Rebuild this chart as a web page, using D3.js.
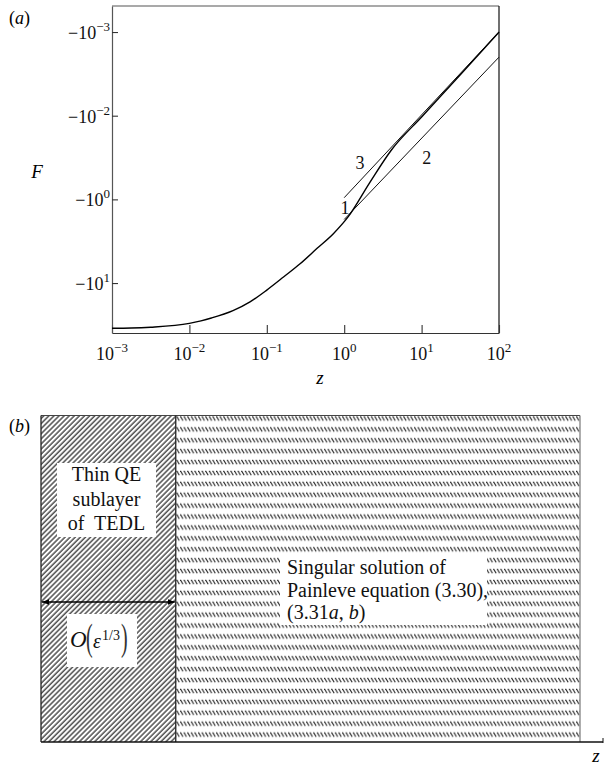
<!DOCTYPE html>
<html><head><meta charset="utf-8">
<script src="https://cdn.jsdelivr.net/npm/d3@7"></script>
<style>
body{margin:0;background:#fff}
svg{display:block;font-family:"Liberation Serif","Times New Roman",serif}
</style>
</head><body>
<svg id="c" width="604" height="765"></svg>
<script>
// ---------- data (panel a) ----------
const xTickValues = [1e-3, 1e-2, 1e-1, 1e0, 1e1, 1e2];
const xTickExponents = ["−3", "−2", "−1", "0", "1", "2"];
const yTickValues = [1e-3, 1e-2, 1e-1, 1e0];
const yTickExponents = ["−3", "−2", "0", "1"];   // as printed in the figure

// curve 1 (full solution): log10 z, log10 |F|
const curve1LogZ    = [-3, -2.75, -2.5, -2, -1.85, -1.716, -1.437, -1.217, -1.0, -0.78, -0.57, -0.35, -0.14, 0.05, 0.33, 0.61, 1.0, 1.5, 2.0];
const curve1LogAbsF = [0.541, 0.538, 0.528, 0.482, 0.4515, 0.418, 0.330, 0.225, 0.084, -0.075, -0.23, -0.415, -0.59, -0.79, -1.2, -1.59, -1.985, -2.49, -3.0];
// curve 2 (asymptote)
const curve2LogZ    = [0.0, 2.0];
const curve2LogAbsF = [-0.76, -2.70];
// curve 3 (asymptote)
const curve3LogZ    = [0.0, 2.0];
const curve3LogAbsF = [-1.02, -3.0];

const curveLabels       = ["1", "2", "3"];
const curveLabelLogZ    = [0.01, 1.066, 0.204];
const curveLabelLogAbsF = [-0.896, -1.494, -1.434];

// ---------- data (panel b) ----------
const regionFractions = [0, 0.25, 1];          // region boundaries along z (schematic)
const leftTextLines  = ["Thin QE", "sublayer", "of  TEDL"];
const rightTextLines = ["Singular solution of", "Painleve equation (3.30),", "(3.31a, b)"];

const svg = d3.select("#c");
const defs = svg.append("defs");

// ---------- panel a ----------
const x = d3.scaleLog().domain([1e-3, 1e2]).range([112, 499]);
const y = d3.scaleLog().domain([Math.pow(10, -3.311), Math.pow(10, 0.597)]).range([6, 333]);

const gA = svg.append("g");
gA.append("line").attr("x1", 112).attr("x2", 499).attr("y1", 6).attr("y2", 6).attr("stroke", "#555").attr("stroke-width", 1.2);
gA.append("line").attr("x1", 499).attr("x2", 499).attr("y1", 6).attr("y2", 333).attr("stroke", "#111").attr("stroke-width", 1.2);

const xAxis = d3.axisBottom(x).tickValues(xTickValues).tickSizeInner(-8).tickSizeOuter(0).tickFormat("");
const gx = gA.append("g").attr("transform", "translate(0,333)").call(xAxis);
gx.select(".domain").attr("stroke", "#333").attr("stroke-width", 1.2);
gx.selectAll(".tick line").attr("stroke", "#333").attr("stroke-width", 1.1);

const yAxis = d3.axisLeft(y).tickValues(yTickValues).tickSizeInner(-6).tickSizeOuter(0).tickFormat("");
const gy = gA.append("g").attr("transform", "translate(112,0)").call(yAxis);
gy.select(".domain").attr("stroke", "#555").attr("stroke-width", 1.2);
gy.selectAll(".tick line").attr("stroke", "#333").attr("stroke-width", 1.1);

xTickValues.forEach((v, i) => {
  const t = gA.append("text").attr("x", x(v)).attr("y", 360).attr("text-anchor", "middle")
    .attr("font-size", 18).attr("fill", "#111");
  t.append("tspan").text("10");
  t.append("tspan").attr("dy", -8).attr("font-size", 13).text(xTickExponents[i]);
});
yTickValues.forEach((v, i) => {
  const t = gA.append("text").attr("x", 110).attr("y", y(v) + 7).attr("text-anchor", "end")
    .attr("font-size", 18).attr("fill", "#111");
  t.append("tspan").text("−10");
  t.append("tspan").attr("dy", -8).attr("font-size", 13).text(yTickExponents[i]);
});

gA.append("text").attr("x", 37).attr("y", 178).attr("text-anchor", "middle")
  .attr("font-size", 19).attr("font-style", "italic").text("F");
gA.append("text").attr("x", 320).attr("y", 384).attr("text-anchor", "middle")
  .attr("font-size", 19).attr("font-style", "italic").text("z");
const la = gA.append("text").attr("x", 9).attr("y", 24).attr("font-size", 18);
la.append("tspan").text("(");
la.append("tspan").attr("font-style", "italic").text("a");
la.append("tspan").text(")");

const line = d3.line().x(d => x(Math.pow(10, d[0]))).y(d => y(Math.pow(10, d[1])));
const lineSmooth = d3.line().x(d => x(Math.pow(10, d[0]))).y(d => y(Math.pow(10, d[1]))).curve(d3.curveMonotoneX);

gA.append("path").datum(curve2LogZ.map((z, i) => [z, curve2LogAbsF[i]]))
  .attr("d", line).attr("fill", "none").attr("stroke", "#111").attr("stroke-width", 1);
gA.append("path").datum(curve3LogZ.map((z, i) => [z, curve3LogAbsF[i]]))
  .attr("d", line).attr("fill", "none").attr("stroke", "#111").attr("stroke-width", 1);
gA.append("path").datum(curve1LogZ.map((z, i) => [z, curve1LogAbsF[i]]))
  .attr("d", lineSmooth).attr("fill", "none").attr("stroke", "#000").attr("stroke-width", 1.4);

curveLabels.forEach((s, i) => {
  gA.append("text").attr("x", x(Math.pow(10, curveLabelLogZ[i])))
    .attr("y", y(Math.pow(10, curveLabelLogAbsF[i]))).attr("dy", "0.35em")
    .attr("text-anchor", "middle").attr("font-size", 18).attr("fill", "#111").text(s);
});

// ---------- panel b ----------
const bx = d3.scaleLinear().domain([0, 1]).range([41, 580]);
const bTop = 415.5, bBot = 742;

const pL = defs.append("pattern").attr("id", "hatchL").attr("patternUnits", "userSpaceOnUse")
  .attr("width", 3.6).attr("height", 10).attr("patternTransform", "rotate(45)");
pL.append("rect").attr("width", 3.6).attr("height", 10).attr("fill", "#fff");
pL.append("line").attr("x1", 1).attr("x2", 1).attr("y1", 0).attr("y2", 10).attr("stroke", "#222").attr("stroke-width", 1.2);

const pR = defs.append("pattern").attr("id", "hatchR").attr("patternUnits", "userSpaceOnUse")
  .attr("x", 0).attr("y", bTop).attr("width", 3.6).attr("height", 10.9);
pR.append("rect").attr("width", 3.6).attr("height", 10.9).attr("fill", "#fff");
pR.append("line").attr("x1", 0.4).attr("y1", 0.8).attr("x2", 2.9).attr("y2", 5.2).attr("stroke", "#222").attr("stroke-width", 1.1);

const gB = svg.append("g");
gB.append("rect").attr("x", bx(regionFractions[0])).attr("y", bTop)
  .attr("width", bx(regionFractions[1]) - bx(regionFractions[0])).attr("height", bBot - bTop)
  .attr("fill", "url(#hatchL)");
gB.append("rect").attr("x", bx(regionFractions[1])).attr("y", bTop)
  .attr("width", bx(regionFractions[2]) - bx(regionFractions[1])).attr("height", bBot - bTop)
  .attr("fill", "url(#hatchR)");
gB.append("line").attr("x1", bx(0)).attr("x2", bx(1)).attr("y1", bTop).attr("y2", bTop).attr("stroke", "#444").attr("stroke-width", 1.2);
gB.append("line").attr("x1", bx(0)).attr("x2", bx(0)).attr("y1", bTop).attr("y2", bBot).attr("stroke", "#222").attr("stroke-width", 1.3);
gB.append("line").attr("x1", bx(regionFractions[1])).attr("x2", bx(regionFractions[1])).attr("y1", bTop).attr("y2", bBot).attr("stroke", "#222").attr("stroke-width", 1.3);
gB.append("line").attr("x1", bx(1)).attr("x2", bx(1)).attr("y1", bTop).attr("y2", bBot).attr("stroke", "#777").attr("stroke-width", 1.2);
gB.append("line").attr("x1", bx(0)).attr("x2", 603).attr("y1", bBot).attr("y2", bBot).attr("stroke", "#111").attr("stroke-width", 1.3);
gB.append("line").attr("x1", 603).attr("x2", 603).attr("y1", bBot - 4).attr("y2", bBot + 1).attr("stroke", "#111").attr("stroke-width", 1);

gB.append("rect").attr("x", 57).attr("y", 463).attr("width", 99).attr("height", 74).attr("fill", "#fff");
leftTextLines.forEach((s, i) => {
  gB.append("text").attr("x", 106.5).attr("y", 481 + i * 24.7).attr("text-anchor", "middle")
    .attr("font-size", 20).attr("fill", "#111").style("white-space", "pre").text(s);
});

const mk = defs.append("marker").attr("id", "ah").attr("viewBox", "0 0 10 10").attr("refX", 10).attr("refY", 5)
  .attr("markerWidth", 7).attr("markerHeight", 7).attr("orient", "auto-start-reverse").attr("markerUnits", "userSpaceOnUse");
mk.append("path").attr("d", "M0,1 L10,5 L0,9 Z").attr("fill", "#000");
gB.append("line").attr("x1", bx(0) + 1).attr("x2", bx(regionFractions[1]) - 1).attr("y1", 602).attr("y2", 602)
  .attr("stroke", "#000").attr("stroke-width", 1.4).attr("marker-start", "url(#ah)").attr("marker-end", "url(#ah)");

gB.append("rect").attr("x", 67).attr("y", 614).attr("width", 70).attr("height", 53).attr("fill", "#fff");
gB.append("text").attr("x", 70).attr("y", 647).attr("font-size", 23).attr("font-style", "italic").attr("fill", "#111").text("O");
gB.append("text").attr("transform", "translate(86,650) scale(1,1.9)").attr("font-size", 20).attr("fill", "#333").text("(");
gB.append("text").attr("x", 93).attr("y", 648).attr("font-size", 20).attr("font-style", "italic").attr("fill", "#111").text("ε");
gB.append("text").attr("x", 102).attr("y", 640).attr("font-size", 14).attr("fill", "#111").text("1/3");
gB.append("text").attr("transform", "translate(121,650) scale(1,1.9)").attr("font-size", 20).attr("fill", "#333").text(")");

gB.append("rect").attr("x", 280).attr("y", 553).attr("width", 207).attr("height", 72).attr("fill", "#fff");
rightTextLines.forEach((s, i) => {
  const t = gB.append("text").attr("x", 287).attr("y", 574 + i * 22.5).attr("font-size", 20).attr("fill", "#111");
  if (s.indexOf("a,") >= 0) {
    t.append("tspan").text("(3.31");
    t.append("tspan").attr("font-style", "italic").text("a");
    t.append("tspan").text(", ");
    t.append("tspan").attr("font-style", "italic").text("b");
    t.append("tspan").text(")");
  } else t.text(s);
});

const lb = gB.append("text").attr("x", 9).attr("y", 432).attr("font-size", 18);
lb.append("tspan").text("(");
lb.append("tspan").attr("font-style", "italic").text("b");
lb.append("tspan").text(")");
gB.append("text").attr("x", 596).attr("y", 762).attr("text-anchor", "middle")
  .attr("font-size", 19).attr("font-style", "italic").text("z");
</script>
</body></html>
